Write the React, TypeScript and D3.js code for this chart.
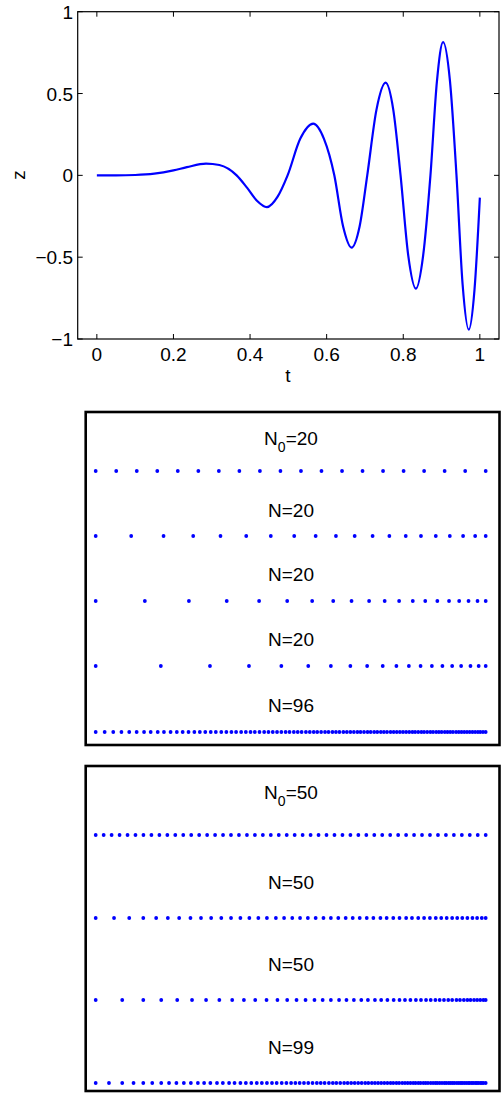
import React from 'react';
import * as d3 from 'd3';

// ---- chirp signal z(t), read at extrema / zero crossings / half-way points ----
const curveT = [0, 0.05, 0.10, 0.15, 0.20, 0.235, 0.285, 0.32, 0.365, 0.392, 0.418, 0.444, 0.472, 0.498,
  0.531, 0.565, 0.593, 0.620, 0.643, 0.665, 0.686, 0.706, 0.730, 0.754, 0.774, 0.793, 0.813, 0.833,
  0.852, 0.871, 0.888, 0.904, 0.922, 0.939, 0.955, 0.971, 0.986, 1.0];
const curveZ = [0, 0, 0.002, 0.01, 0.03, 0.05, 0.072, 0.063, 0, -0.075, -0.155, -0.194, -0.13, 0,
  0.223, 0.316, 0.223, 0, -0.313, -0.442, -0.313, 0, 0.40, 0.566, 0.40, 0, -0.489, -0.692,
  -0.489, 0, 0.576, 0.814, 0.576, 0, -0.667, -0.943, -0.70, -0.136];

const tTicks = [0, 0.2, 0.4, 0.6, 0.8, 1];
const zTicks = [-1, -0.5, 0, 0.5, 1];

// ---- grids, panel A (start with N0 = 20) ----
const gridA0 = [0, 0.0526, 0.1053, 0.1579, 0.2105, 0.2632, 0.3158, 0.3684, 0.4211, 0.4737,
  0.5263, 0.5789, 0.6316, 0.6842, 0.7368, 0.7895, 0.8421, 0.8947, 0.9474, 1];
const gridA1 = [0, 0.091, 0.174, 0.250, 0.320, 0.386, 0.449, 0.509, 0.564, 0.616,
  0.664, 0.710, 0.753, 0.795, 0.834, 0.872, 0.908, 0.942, 0.973, 1.0];
const gridA2 = [0, 0.126, 0.239, 0.336, 0.419, 0.491, 0.555, 0.609, 0.656, 0.701,
  0.741, 0.778, 0.813, 0.845, 0.876, 0.906, 0.932, 0.956, 0.979, 1.0];
const gridA3 = [0, 0.167, 0.293, 0.393, 0.476, 0.545, 0.603, 0.653, 0.696, 0.736,
  0.771, 0.803, 0.833, 0.862, 0.889, 0.914, 0.937, 0.961, 0.982, 1.0];
const gridA4 = [0, 0.023, 0.045, 0.066, 0.086, 0.105, 0.124, 0.141, 0.159, 0.175,
  0.192, 0.208, 0.223, 0.238, 0.253, 0.267, 0.281, 0.295, 0.308, 0.322,
  0.335, 0.348, 0.360, 0.373, 0.385, 0.397, 0.408, 0.420, 0.432, 0.443,
  0.454, 0.465, 0.476, 0.487, 0.497, 0.508, 0.518, 0.528, 0.539, 0.549,
  0.559, 0.568, 0.578, 0.588, 0.597, 0.607, 0.616, 0.625, 0.635, 0.644,
  0.653, 0.662, 0.671, 0.679, 0.688, 0.697, 0.705, 0.714, 0.722, 0.731,
  0.739, 0.747, 0.756, 0.764, 0.772, 0.780, 0.788, 0.796, 0.804, 0.812,
  0.819, 0.827, 0.835, 0.842, 0.850, 0.858, 0.865, 0.873, 0.880, 0.887,
  0.895, 0.902, 0.909, 0.916, 0.924, 0.931, 0.938, 0.945, 0.952, 0.959,
  0.966, 0.973, 0.980, 0.986, 0.993, 1.0];

// ---- grids, panel B (start with N0 = 50) ----
const gridB0 = [0, 0.0204, 0.0408, 0.0612, 0.0816, 0.1020, 0.1224, 0.1429, 0.1633, 0.1837,
  0.2041, 0.2245, 0.2449, 0.2653, 0.2857, 0.3061, 0.3265, 0.3469, 0.3673, 0.3878,
  0.4082, 0.4286, 0.4490, 0.4694, 0.4898, 0.5102, 0.5306, 0.5510, 0.5714, 0.5918,
  0.6122, 0.6327, 0.6531, 0.6735, 0.6939, 0.7143, 0.7347, 0.7551, 0.7755, 0.7959,
  0.8163, 0.8367, 0.8571, 0.8776, 0.8980, 0.9184, 0.9388, 0.9592, 0.9796, 1];
const gridB1 = [0, 0.047, 0.086, 0.122, 0.155, 0.185, 0.214, 0.243, 0.270, 0.296,
  0.322, 0.347, 0.371, 0.394, 0.417, 0.439, 0.462, 0.483,
  0.504, 0.524, 0.544, 0.564, 0.584, 0.603, 0.622, 0.641, 0.659, 0.677,
  0.695, 0.712, 0.730, 0.746, 0.763, 0.779, 0.796, 0.811, 0.827, 0.842,
  0.857, 0.872, 0.886, 0.900, 0.914, 0.927, 0.940, 0.953, 0.966, 0.978,
  0.990, 1.0];
const gridB2 = [0, 0.068, 0.122, 0.168, 0.209, 0.247, 0.283, 0.317, 0.350, 0.380,
  0.409, 0.438, 0.466, 0.491,
  0.515, 0.538, 0.561, 0.582, 0.603, 0.624, 0.643, 0.662, 0.681, 0.698,
  0.716, 0.732, 0.748, 0.764, 0.779, 0.793, 0.807, 0.821, 0.834, 0.847,
  0.859, 0.871, 0.882, 0.893, 0.904, 0.914, 0.925, 0.934, 0.944, 0.953,
  0.961, 0.970, 0.978, 0.986, 0.994, 1.0];
const gridB3 = [0, 0.034, 0.068, 0.097, 0.122, 0.145, 0.168, 0.188, 0.207, 0.226,
  0.244, 0.262, 0.278, 0.294, 0.311, 0.326, 0.342, 0.356, 0.371, 0.385,
  0.399, 0.413, 0.426, 0.439, 0.452, 0.464, 0.477, 0.489,
  0.501, 0.512, 0.523, 0.534, 0.545, 0.556, 0.567, 0.577, 0.587, 0.598,
  0.608, 0.617, 0.627, 0.637, 0.646, 0.655, 0.664, 0.673, 0.682, 0.691,
  0.699, 0.708, 0.716, 0.724, 0.732, 0.740, 0.748, 0.756, 0.763, 0.771,
  0.778, 0.786, 0.793, 0.800, 0.807, 0.814, 0.820, 0.827, 0.833, 0.840,
  0.846, 0.852, 0.859, 0.865, 0.871, 0.876, 0.882, 0.888, 0.894, 0.899,
  0.905, 0.910, 0.915, 0.920, 0.926, 0.931, 0.936, 0.940, 0.945, 0.950,
  0.955, 0.959, 0.964, 0.968, 0.973, 0.977, 0.981, 0.986, 0.990, 0.994, 1.0];

const FONT = "'Liberation Sans', Arial, Helvetica, sans-serif";
const BLUE = '#0000ff';

const fmt = (v: number) => (v < 0 ? '\u2212' + String(Math.abs(v)) : String(v));

type Row = { title: string; sub?: string; count: number; grid: number[]; labelY: number; dotY: number };

const panelA = { top: 412, bottom: 745, rows: [
  { title: 'N', sub: '0', count: 20, grid: gridA0, labelY: 438, dotY: 471 },
  { title: 'N', count: 20, grid: gridA1, labelY: 510, dotY: 536 },
  { title: 'N', count: 20, grid: gridA2, labelY: 574, dotY: 601 },
  { title: 'N', count: 20, grid: gridA3, labelY: 639, dotY: 666 },
  { title: 'N', count: 96, grid: gridA4, labelY: 705, dotY: 732 },
] as Row[] };

const panelB = { top: 766, bottom: 1091, rows: [
  { title: 'N', sub: '0', count: 50, grid: gridB0, labelY: 792, dotY: 835 },
  { title: 'N', count: 50, grid: gridB1, labelY: 882, dotY: 918 },
  { title: 'N', count: 50, grid: gridB2, labelY: 964, dotY: 1000 },
  { title: 'N', count: 99, grid: gridB3, labelY: 1047, dotY: 1083 },
] as Row[] };

function GridPanel({ panel }: { panel: { top: number; bottom: number; rows: Row[] } }) {
  const gx = d3.scaleLinear().domain([0, 1]).range([95.7, 485.7]);
  const left = 85.7, right = 499.5;
  return (
    <g>
      <rect x={left} y={panel.top} width={right - left} height={panel.bottom - panel.top}
        fill="none" stroke="#000" strokeWidth={2.6} />
      {panel.rows.map((r, i) => (
        <g key={i}>
          <text x={291} y={r.labelY + 7} textAnchor="middle" fontFamily={FONT} fontSize={19} fill="#000">
            {r.title}
            {r.sub ? <tspan fontSize={14} dy={7}>{r.sub}</tspan> : null}
            <tspan dy={r.sub ? -7 : 0}>{'=' + r.count}</tspan>
          </text>
          {r.grid.map((t, j) => (
            <circle key={j} cx={gx(t)} cy={r.dotY} r={1.9} fill={BLUE} />
          ))}
        </g>
      ))}
    </g>
  );
}

export default function App() {
  const W = 501, H = 1094;
  const x = d3.scaleLinear().domain([-0.05, 1.05]).range([77.7, 499]);
  const y = d3.scaleLinear().domain([-1, 1]).range([339, 11.7]);
  const [x0, x1] = x.range();
  const [y0, y1] = y.range();
  const tick = 5;

  const line = d3.line<number>()
    .x((_, i) => x(curveT[i]))
    .y((d) => y(d))
    .curve(d3.curveMonotoneX);

  return (
    <svg width={W} height={H} style={{ position: 'absolute', left: 0, top: 0, background: '#fff' }}>
      <rect x={0} y={0} width={W} height={H} fill="#fff" />
      {/* signal axes */}
      <rect x={x0} y={y1} width={x1 - x0} height={y0 - y1} fill="none" stroke="#000" strokeWidth={1.2} />
      {tTicks.map((v) => (
        <g key={'xt' + v}>
          <line x1={x(v)} x2={x(v)} y1={y0} y2={y0 - tick} stroke="#000" strokeWidth={1} />
          <line x1={x(v)} x2={x(v)} y1={y1} y2={y1 + tick} stroke="#000" strokeWidth={1} />
          <text x={x(v)} y={y0 + 22} textAnchor="middle" fontFamily={FONT} fontSize={19} fill="#000">{fmt(v)}</text>
        </g>
      ))}
      {zTicks.map((v) => (
        <g key={'yt' + v}>
          <line x1={x0} x2={x0 + tick} y1={y(v)} y2={y(v)} stroke="#000" strokeWidth={1} />
          <line x1={x1} x2={x1 - tick} y1={y(v)} y2={y(v)} stroke="#000" strokeWidth={1} />
          <text x={73} y={y(v) + 7} textAnchor="end" fontFamily={FONT} fontSize={19} fill="#000">{fmt(v)}</text>
        </g>
      ))}
      <text x={288} y={382} textAnchor="middle" fontFamily={FONT} fontSize={19} fill="#000">t</text>
      <text transform={`translate(25,175) rotate(-90)`} textAnchor="middle" fontFamily={FONT} fontSize={19} fill="#000">z</text>
      <path d={line(curveZ) || ''} fill="none" stroke={BLUE} strokeWidth={2.2} strokeLinejoin="round" />

      <GridPanel panel={panelA} />
      <GridPanel panel={panelB} />
    </svg>
  );
}
